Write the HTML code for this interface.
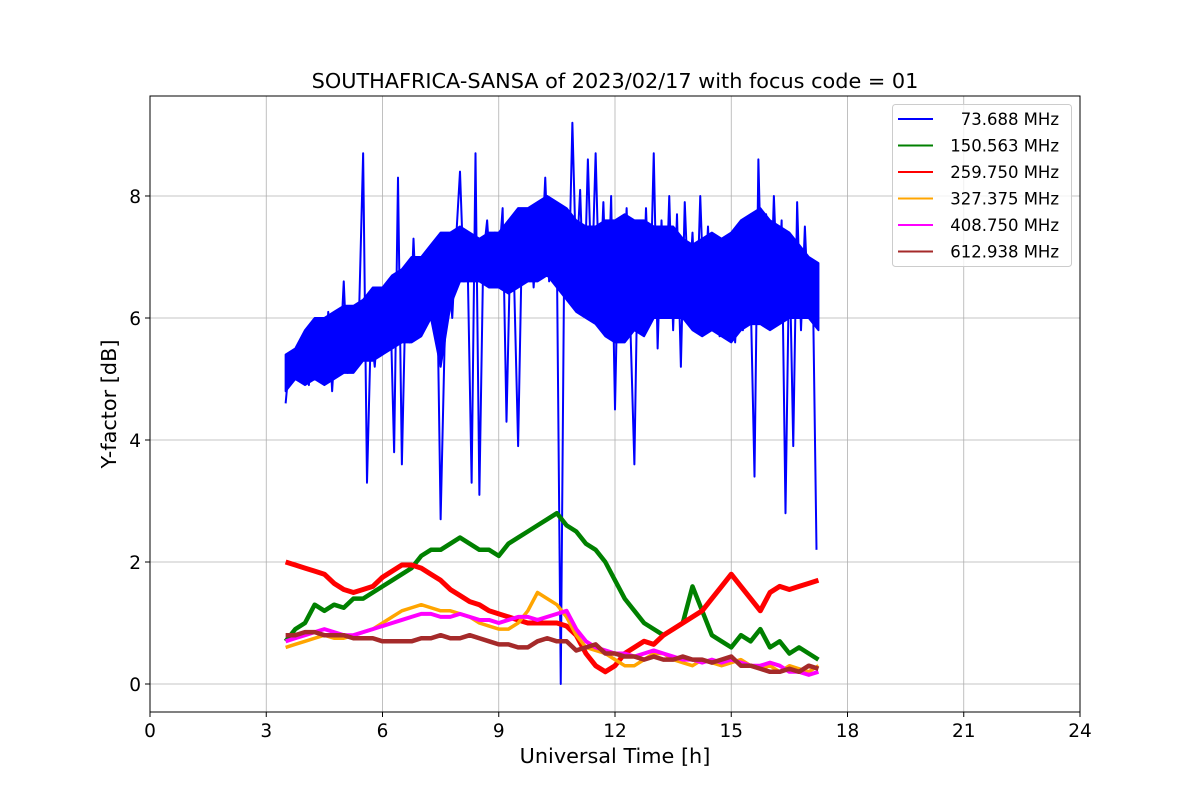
<!DOCTYPE html>
<html><head><meta charset="utf-8"><style>
html,body{margin:0;padding:0;background:#fff}
svg{display:block;font-family:"DejaVu Sans","Liberation Sans",sans-serif}
</style></head><body>
<svg id="chart" width="1200" height="800" xmlns="http://www.w3.org/2000/svg"></svg>
<script>
const xTicks=[0,3,6,9,12,15,18,21,24];
const yTicks=[0,2,4,6,8];
const blueStart=3.5, blueStep=0.1;
const blueValues=[4.6,5.3,5.0,5.4,5.1,5.6,4.9,5.9,5.2,6.0,
5.0,6.1,4.8,5.9,5.3,6.6,5.1,5.8,5.4,6.2,
8.7,3.3,5.8,5.2,6.1,5.4,5.6,6.3,3.8,8.3,
3.6,6.5,5.6,7.3,5.8,6.6,6.0,6.9,6.2,7.0,
2.7,5.5,6.8,6.0,7.3,8.4,6.6,6.8,3.3,8.7,
3.1,7.0,7.6,6.6,7.4,6.9,7.8,4.3,7.2,6.5,
3.9,7.3,6.8,7.7,6.5,7.5,6.9,8.3,6.6,7.6,
7.0,0.0,7.8,6.4,9.2,6.8,8.1,6.2,8.6,6.5,
8.7,6.3,7.9,5.9,8.0,4.5,7.6,6.4,7.8,5.8,
3.6,7.5,5.9,7.8,6.1,8.7,5.5,7.6,6.0,8.0,
5.8,7.7,5.2,7.9,6.3,7.4,5.9,8.0,6.2,7.5,
6.0,7.3,5.7,7.0,6.2,7.4,5.6,6.8,5.8,7.3,
6.4,3.4,8.6,6.0,7.7,5.9,8.0,6.3,7.6,2.8,
7.2,3.9,7.9,5.8,7.5,6.0,6.8,2.2];
const otherStart=3.5, otherStep=0.25;
const blueLow=[4.8,5.0,4.9,5.0,4.9,5.0,5.1,5.1,5.3,5.3,5.4,5.5,5.6,5.6,5.7,6.0,5.2,6.2,6.6,6.6,6.6,6.5,6.5,6.4,6.5,6.6,6.6,6.7,6.5,6.3,6.1,6.0,5.9,5.7,5.6,5.6,5.8,5.7,6.0,6.0,6.0,6.0,5.8,5.7,5.8,5.7,5.6,5.8,5.9,5.9,5.8,5.9,6.0,6.0,6.0,5.8];
const blueHigh=[5.4,5.5,5.8,6.0,6.0,6.1,6.2,6.2,6.3,6.5,6.5,6.7,6.8,7.0,7.0,7.2,7.4,7.4,7.5,7.4,7.3,7.4,7.4,7.6,7.8,7.8,7.9,8.0,7.9,7.8,7.6,7.5,7.5,7.6,7.6,7.7,7.6,7.6,7.5,7.5,7.5,7.3,7.2,7.3,7.4,7.3,7.4,7.6,7.7,7.8,7.6,7.5,7.4,7.2,7.0,6.9];
const greenValues=[0.7,0.9,1.0,1.3,1.2,1.3,1.25,1.4,1.4,1.5,1.6,1.7,1.8,1.9,2.1,2.2,2.2,2.3,2.4,2.3,2.2,2.2,2.1,2.3,2.4,2.5,2.6,2.7,2.8,2.6,2.5,2.3,2.2,2.0,1.7,1.4,1.2,1.0,0.9,0.8,0.9,1.0,1.6,1.2,0.8,0.7,0.6,0.8,0.7,0.9,0.6,0.7,0.5,0.6,0.5,0.4];
const redValues=[2.0,1.95,1.9,1.85,1.8,1.65,1.55,1.5,1.55,1.6,1.75,1.85,1.95,1.95,1.9,1.8,1.7,1.55,1.45,1.35,1.3,1.2,1.15,1.1,1.05,1.0,1.0,1.0,1.0,0.95,0.8,0.5,0.3,0.2,0.3,0.5,0.6,0.7,0.65,0.8,0.9,1.0,1.1,1.2,1.4,1.6,1.8,1.6,1.4,1.2,1.5,1.6,1.55,1.6,1.65,1.7];
const orangeValues=[0.6,0.65,0.7,0.75,0.8,0.75,0.75,0.8,0.85,0.9,1.0,1.1,1.2,1.25,1.3,1.25,1.2,1.2,1.15,1.1,1.0,0.95,0.9,0.9,1.0,1.2,1.5,1.4,1.3,1.1,0.8,0.6,0.55,0.5,0.4,0.3,0.3,0.4,0.5,0.5,0.4,0.35,0.3,0.4,0.35,0.3,0.35,0.4,0.3,0.25,0.3,0.2,0.3,0.25,0.2,0.3];
const magentaValues=[0.7,0.75,0.8,0.85,0.9,0.85,0.8,0.8,0.85,0.9,0.95,1.0,1.05,1.1,1.15,1.15,1.1,1.1,1.15,1.1,1.05,1.05,1.0,1.05,1.1,1.1,1.05,1.1,1.15,1.2,0.9,0.7,0.6,0.55,0.5,0.5,0.45,0.5,0.55,0.5,0.45,0.4,0.4,0.35,0.4,0.35,0.4,0.35,0.3,0.3,0.35,0.3,0.2,0.2,0.15,0.2];
const brownValues=[0.8,0.8,0.85,0.85,0.8,0.8,0.8,0.75,0.75,0.75,0.7,0.7,0.7,0.7,0.75,0.75,0.8,0.75,0.75,0.8,0.75,0.7,0.65,0.65,0.6,0.6,0.7,0.75,0.7,0.7,0.55,0.6,0.65,0.5,0.5,0.45,0.45,0.4,0.45,0.4,0.4,0.45,0.4,0.4,0.35,0.4,0.45,0.3,0.3,0.25,0.2,0.2,0.25,0.2,0.3,0.25];
const legendLabels=[" 73.688 MHz","150.563 MHz","259.750 MHz","327.375 MHz","408.750 MHz","612.938 MHz"];

const NS="http://www.w3.org/2000/svg";
const svg=document.getElementById('chart');
const L=150,R=1080,T=96,B=712;
const xMin=0,xMax=24,yMin=-0.459,yMax=9.639;
const xs=v=>L+(v-xMin)/(xMax-xMin)*(R-L);
const ys=v=>B-(v-yMin)/(yMax-yMin)*(B-T);
function mk(tag,attrs,parent){const e=document.createElementNS(NS,tag);for(const k in attrs)e.setAttribute(k,attrs[k]);(parent||svg).appendChild(e);return e;}

const grid=mk('g',{});


xTicks.forEach(t=>{
  const l=mk('line',{x1:xs(t),x2:xs(t),y1:T,y2:B,stroke:'#b0b0b0','stroke-width':0.8},grid);
  
  
  const tk=mk('line',{x1:xs(t),x2:xs(t),y1:B,y2:B+5,stroke:'#000','stroke-width':1});
  
  
  const tx=mk('text',{x:xs(t),y:B+25,'text-anchor':'middle','font-size':18.5});
  tx.textContent=t;
  
  
});
yTicks.forEach(t=>{
  const l=mk('line',{x1:L,x2:R,y1:ys(t),y2:ys(t),stroke:'#b0b0b0','stroke-width':0.8},grid);
  
  
  const tk=mk('line',{x1:L-5,x2:L,y1:ys(t),y2:ys(t),stroke:'#000','stroke-width':1});
  
  
  const tx=mk('text',{x:L-9,y:ys(t)+7,'text-anchor':'end','font-size':18.5});
  tx.textContent=t;
  
  
});

// blue band envelope
const bandPts=blueHigh.map((v,i)=>xs(otherStart+i*otherStep).toFixed(2)+','+ys(v).toFixed(2))
 .concat(blueLow.map((v,i)=>xs(otherStart+i*otherStep).toFixed(2)+','+ys(v).toFixed(2)).reverse()).join(' ');
const band=mk('polygon',{points:bandPts,fill:'#0000ff',stroke:'#0000ff','stroke-width':2,'stroke-linejoin':'round'});



function series(vals,start,step,color,w,name){
  const pts=vals.map((v,i)=>xs(start+i*step).toFixed(2)+','+ys(v).toFixed(2)).join(' ');
  const p=mk('polyline',{points:pts,fill:'none',stroke:color,'stroke-width':w,'stroke-linejoin':'round'});
  
  
}
series(blueValues,blueStart,blueStep,'#0000ff',2,'series-73-688-mhz');
series(greenValues,otherStart,otherStep,'#008000',4.5,'series-150-563-mhz');
series(redValues,otherStart,otherStep,'#ff0000',5,'series-259-750-mhz');
series(orangeValues,otherStart,otherStep,'#ffa500',3.5,'series-327-375-mhz');
series(magentaValues,otherStart,otherStep,'#ff00ff',4,'series-408-750-mhz');
series(brownValues,otherStart,otherStep,'#a52a2a',4.5,'series-612-938-mhz');

const frame=mk('rect',{x:L,y:T,width:R-L,height:B-T,fill:'none',stroke:'#000','stroke-width':1});



const title=mk('text',{x:(L+R)/2,y:88,'text-anchor':'middle','font-size':20.8});
title.textContent='SOUTHAFRICA-SANSA of 2023/02/17 with focus code = 01';


const xl=mk('text',{x:(L+R)/2,y:763,'text-anchor':'middle','font-size':20.8});
xl.textContent='Universal Time [h]';


const yl=mk('text',{x:0,y:0,'text-anchor':'middle','font-size':20.8,transform:'translate(116,404) rotate(-90)'});
yl.textContent='Y-factor [dB]';



const leg=mk('g',{});


mk('rect',{x:892.5,y:104.5,width:179,height:162,rx:3,fill:'#fff','fill-opacity':0.8,stroke:'#ccc'},leg);
const colors=['#0000ff','#008000','#ff0000','#ffa500','#ff00ff','#a52a2a'];
legendLabels.forEach((lab,i)=>{
  const y=119+i*26.5;
  const g=mk('g',{},leg);
  
  
  mk('line',{x1:898,x2:933,y1:y,y2:y,stroke:colors[i],'stroke-width':2},g);
  const t=mk('text',{x:1059,y:y+6,'text-anchor':'end','font-size':16.5,'xml:space':'preserve'},g);
  t.textContent=lab;
});
</script>
</body></html>
